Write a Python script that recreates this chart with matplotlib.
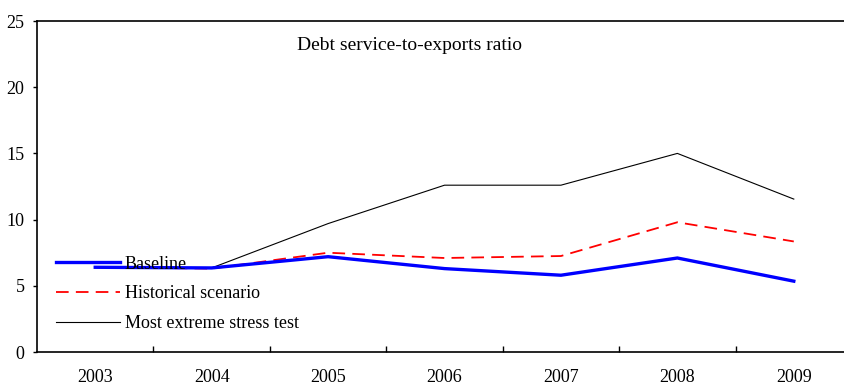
import matplotlib
matplotlib.use("Agg")
import matplotlib.pyplot as plt
from matplotlib.lines import Line2D

plt.rcParams['font.family'] = ['Liberation Serif', 'DejaVu Serif']

years = ['2003', '2004', '2005', '2006', '2007', '2008', '2009']
baseline = [6.4, 6.35, 7.2, 6.3, 5.8, 7.1, 5.35]
historical = [6.4, 6.3, 7.5, 7.1, 7.25, 9.8, 8.35]
extreme = [6.4, 6.35, 9.7, 12.6, 12.6, 15.0, 11.55]

fig = plt.figure(figsize=(8.45, 3.82), dpi=100)
ax = fig.add_axes([0.0438, 0.0785, 0.9645, 0.8665])

x = list(range(len(years)))
ax.plot(x, extreme, color='black', lw=0.8, label='Most extreme stress test', zorder=2)
ax.plot(x, historical, color='red', lw=1.3, dashes=(7, 4), label='Historical scenario', zorder=3)
ax.plot(x, baseline, color='blue', lw=2.4, label='Baseline', zorder=4, solid_joinstyle='miter')

ax.set_xlim(-0.5, len(years) - 0.5)
ax.set_ylim(0, 25)
ax.set_yticks([0, 5, 10, 15, 20, 25])
ax.set_xticks(x)
ax.set_xticklabels(years)
ax.set_xticks([i + 0.5 for i in x[:-1]], minor=True)
ax.tick_params(axis='x', which='major', length=0, pad=12, labelsize=13)
ax.tick_params(axis='x', which='minor', direction='in', length=4, width=1)
ax.tick_params(axis='y', direction='out', length=3, width=1, pad=6, labelsize=13)
for s in ax.spines.values():
    s.set_linewidth(1.2)

ax.text(0.485, 0.882, 'Debt service-to-exports ratio', transform=fig.transFigure,
        ha='center', va='center', fontsize=14)

handles = [Line2D([], [], color='blue', lw=2.4),
           Line2D([], [], color='red', lw=1.3, dashes=(7, 4)),
           Line2D([], [], color='black', lw=0.8)]
labels = ['Baseline', 'Historical scenario', 'Most extreme stress test']
ax.legend(handles, labels, loc='upper left', bbox_to_anchor=(0.056, 0.354),
          bbox_transform=fig.transFigure, frameon=False, fontsize=13,
          handlelength=3.5, handletextpad=0.3, labelspacing=0.7, borderpad=0)

fig.savefig('out.png', dpi=100)
